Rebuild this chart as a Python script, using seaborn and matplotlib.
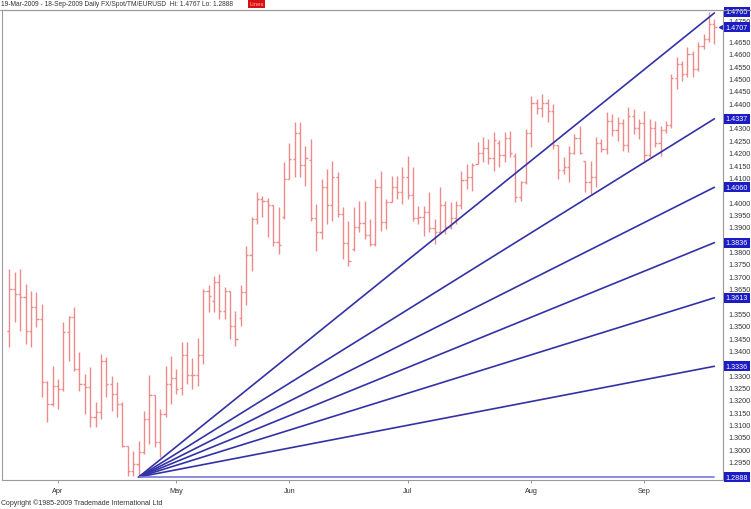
import matplotlib
matplotlib.use("Agg")
import matplotlib.pyplot as plt
import matplotlib.transforms as mtransforms
import seaborn as sns
import pandas as pd
import numpy as np

sns.set_theme(style="white")
plt.rcParams['font.family'] = ['Liberation Sans', 'DejaVu Sans']

# ---------------- data ----------------
start_date = "2009-03-19"
end_date = "2009-09-18"

opens = [1.3480, 1.3648, 1.3628, 1.3615, 1.3480, 1.3574, 1.3527, 1.3271, 1.3183, 1.3258,
         1.3244, 1.3473, 1.3534, 1.3325, 1.3264, 1.3251, 1.3129, 1.3150, 1.3359, 1.3264,
         1.3224, 1.3183, 1.3015, 1.2914, 1.2941, 1.2990, 1.3123, 1.3218, 1.3029, 1.3144,
         1.3265, 1.3290, 1.3250, 1.3380, 1.3300, 1.3300, 1.3380, 1.3640, 1.3600, 1.3676,
         1.3560, 1.3642, 1.3500, 1.3530, 1.3636, 1.3785, 1.3930, 1.4013, 1.4005, 1.3990,
         1.3838, 1.3940, 1.4094, 1.4175, 1.4280, 1.4150, 1.4170, 1.3935, 1.3880, 1.4060,
         1.3990, 1.4100, 1.3950, 1.3835, 1.3810, 1.3900, 1.3915, 1.3865, 1.3830, 1.4060,
         1.3920, 1.4000, 1.4060, 1.4040, 1.4100, 1.4030, 1.3935, 1.3940, 1.3960, 1.3895,
         1.3880, 1.3990, 1.3900, 1.3935, 1.3990, 1.4090, 1.4100, 1.4155, 1.4200, 1.4220,
         1.4180, 1.4240, 1.4190, 1.4260, 1.4185, 1.4020, 1.4080, 1.4280, 1.4400, 1.4380,
         1.4400, 1.4370, 1.4230, 1.4130, 1.4140, 1.4200, 1.4260, 1.4165, 1.4080, 1.4100,
         1.4240, 1.4215, 1.4330, 1.4290, 1.4320, 1.4230, 1.4350, 1.4300, 1.4320, 1.4190,
         1.4300, 1.4240, 1.4290, 1.4310, 1.4500, 1.4560, 1.4520, 1.4600, 1.4540, 1.4630,
         1.4660, 1.4720]
highs = [1.3729, 1.3716, 1.3729, 1.3669, 1.3642, 1.3635, 1.3588, 1.3278, 1.3338, 1.3284,
         1.3514, 1.3541, 1.3574, 1.3392, 1.3305, 1.3332, 1.3190, 1.3386, 1.3372, 1.3298,
         1.3271, 1.3190, 1.3015, 1.2995, 1.3035, 1.3157, 1.3299, 1.3218, 1.3164, 1.3339,
         1.3379, 1.3326, 1.3433, 1.3433, 1.3370, 1.3450, 1.3649, 1.3663, 1.3703, 1.3710,
         1.3656, 1.3642, 1.3561, 1.3663, 1.3824, 1.3939, 1.4040, 1.4025, 1.4015, 1.3990,
         1.3979, 1.4161, 1.4238, 1.4323, 1.4325, 1.4228, 1.4255, 1.3993, 1.4094, 1.4134,
         1.4168, 1.4121, 1.3979, 1.3925, 1.3979, 1.4006, 1.4006, 1.3932, 1.4094, 1.4127,
         1.4013, 1.4107, 1.4107, 1.4141, 1.4188, 1.4141, 1.3986, 1.3986, 1.4040, 1.3932,
         1.4060, 1.4006, 1.3999, 1.4006, 1.4127, 1.4154, 1.4160, 1.4242, 1.4262, 1.4255,
         1.4282, 1.4250, 1.4282, 1.4289, 1.4200, 1.4087, 1.4296, 1.4431, 1.4417, 1.4437,
         1.4417, 1.4397, 1.4230, 1.4181, 1.4228, 1.4276, 1.4309, 1.4168, 1.4168, 1.4262,
         1.4255, 1.4363, 1.4357, 1.4343, 1.4336, 1.4383, 1.4377, 1.4336, 1.4370, 1.4336,
         1.4330, 1.4309, 1.4330, 1.4518, 1.4586, 1.4570, 1.4626, 1.4613, 1.4646, 1.4680,
         1.4767, 1.4740]
lows = [1.3413, 1.3514, 1.3480, 1.3426, 1.3413, 1.3493, 1.3210, 1.3109, 1.3177, 1.3163,
        1.3237, 1.3359, 1.3318, 1.3237, 1.3143, 1.3089, 1.3089, 1.3123, 1.3210, 1.3156,
        1.3129, 1.3008, 1.2894, 1.2894, 1.2888, 1.2980, 1.3020, 1.3010, 1.2970, 1.3130,
        1.3185, 1.3225, 1.3218, 1.3265, 1.3245, 1.3258, 1.3346, 1.3555, 1.3555, 1.3528,
        1.3528, 1.3447, 1.3420, 1.3500, 1.3582, 1.3720, 1.3910, 1.3940, 1.3858, 1.3824,
        1.3790, 1.3930, 1.4094, 1.4100, 1.4100, 1.4067, 1.3925, 1.3804, 1.3851, 1.3912,
        1.3925, 1.3939, 1.3770, 1.3743, 1.3804, 1.3878, 1.3851, 1.3824, 1.3824, 1.3885,
        1.3891, 1.4000, 1.4013, 1.3993, 1.4013, 1.3925, 1.3912, 1.3864, 1.3878, 1.3831,
        1.3878, 1.3871, 1.3891, 1.3912, 1.3972, 1.4053, 1.4045, 1.4154, 1.4161, 1.4154,
        1.4127, 1.4141, 1.4161, 1.4181, 1.4000, 1.4006, 1.4074, 1.4222, 1.4357, 1.4343,
        1.4323, 1.4215, 1.4094, 1.4114, 1.4080, 1.4195, 1.4195, 1.4040, 1.4033, 1.4060,
        1.4201, 1.4195, 1.4269, 1.4249, 1.4208, 1.4201, 1.4276, 1.4255, 1.4168, 1.4181,
        1.4222, 1.4188, 1.4280, 1.4300, 1.4458, 1.4491, 1.4505, 1.4505, 1.4530, 1.4620,
        1.4646, 1.4640]
closes = [1.3648, 1.3628, 1.3615, 1.3480, 1.3574, 1.3527, 1.3271, 1.3183, 1.3258, 1.3244,
          1.3473, 1.3534, 1.3325, 1.3264, 1.3251, 1.3129, 1.3150, 1.3359, 1.3264, 1.3224,
          1.3183, 1.3015, 1.2914, 1.2941, 1.2990, 1.3123, 1.3218, 1.3029, 1.3144, 1.3265,
          1.3290, 1.3245, 1.3380, 1.3300, 1.3300, 1.3380, 1.3640, 1.3622, 1.3676, 1.3560,
          1.3642, 1.3500, 1.3447, 1.3636, 1.3785, 1.3930, 1.4013, 1.4005, 1.3990, 1.3838,
          1.3825, 1.4094, 1.4175, 1.4280, 1.4150, 1.4180, 1.3935, 1.3880, 1.4060, 1.3990,
          1.4100, 1.3950, 1.3835, 1.3760, 1.3900, 1.3915, 1.3865, 1.3830, 1.4060, 1.3920,
          1.4000, 1.4060, 1.4040, 1.4100, 1.4030, 1.3935, 1.3940, 1.3960, 1.3895, 1.3880,
          1.3990, 1.3900, 1.3935, 1.3990, 1.4090, 1.4100, 1.4150, 1.4200, 1.4220, 1.4180,
          1.4250, 1.4190, 1.4260, 1.4200, 1.4020, 1.4080, 1.4280, 1.4400, 1.4380, 1.4400,
          1.4370, 1.4230, 1.4130, 1.4140, 1.4200, 1.4260, 1.4200, 1.4080, 1.4100, 1.4240,
          1.4215, 1.4330, 1.4290, 1.4320, 1.4230, 1.4350, 1.4300, 1.4320, 1.4190, 1.4300,
          1.4240, 1.4290, 1.4310, 1.4500, 1.4560, 1.4520, 1.4600, 1.4540, 1.4630, 1.4660,
          1.4720, 1.4707]

# Fibonacci fan: anchor bar index and price, end prices at last bar
fan_anchor_index = 24
fan_anchor_price = 1.2888
fan_end_prices = [1.4765, 1.4337, 1.4060, 1.3836, 1.3613, 1.3336, 1.2888]
fan_labels = ["1.4765", "1.4337", "1.4060", "1.3836", "1.3613", "1.3336", "1.2888"]

last_price = 1.4707
last_label = "1.4707"

ytick_values = [1.4750, 1.4650, 1.4600, 1.4550, 1.4500, 1.4450, 1.4400, 1.4300, 1.4250,
                1.4200, 1.4150, 1.4100, 1.4000, 1.3950, 1.3900, 1.3800, 1.3750, 1.3700,
                1.3650, 1.3550, 1.3500, 1.3450, 1.3400, 1.3300, 1.3250, 1.3200, 1.3150,
                1.3100, 1.3050, 1.3000, 1.2950]
ytick_labels = ["%.4f" % v for v in ytick_values]

title_text = "19-Mar-2009 - 18-Sep-2009 Daily FX/Spot/TM/EURUSD  Hi: 1.4767 Lo: 1.2888"
copyright_text = "Copyright \u00a91985-2009 Trademade International Ltd"

# ---------------- build ----------------
dates = pd.bdate_range(start_date, end_date)
df = pd.DataFrame({"date": dates[:len(opens)], "open": opens, "high": highs,
                   "low": lows, "close": closes})
df["idx"] = np.arange(len(df))
last_idx = df["idx"].iloc[-1]

W, H = 751, 510
fig = plt.figure(figsize=(W / 100, H / 100), dpi=100)
fig.patch.set_facecolor("white")
ax = fig.add_axes([2 / W, 29 / H, 721 / W, 470 / H])
ax.set_facecolor("white")

bar_color = "#ef8a8a"
ax.vlines(df["idx"], df["low"], df["high"], color=bar_color, lw=1.0)
ax.hlines(df["open"], df["idx"] - 0.4, df["idx"], color=bar_color, lw=1.0)
ax.hlines(df["close"], df["idx"], df["idx"] + 0.4, color=bar_color, lw=1.0)

# fan lines via seaborn
rows = []
for k, p in enumerate(fan_end_prices):
    rows.append({"line": k, "x": fan_anchor_index, "price": fan_anchor_price})
    rows.append({"line": k, "x": last_idx, "price": p})
fan_df = pd.DataFrame(rows)
pal = {k: "#3232a6" for k in range(len(fan_end_prices))}
pal[len(fan_end_prices) - 1] = "#7878da"
sns.lineplot(data=fan_df, x="x", y="price", hue="line", units="line", estimator=None,
             palette=pal, lw=1.2, legend=False, ax=ax)

ax.set_xlim(-1.39, 132.6)
ax.set_ylim(1.2876, 1.4777)
ax.set_xlabel("")
ax.set_ylabel("")

# month ticks at first trading day of each month
month_first = df.groupby(df["date"].dt.to_period("M"))["idx"].min()
month_first = month_first[month_first > 0]
ax.set_xticks(month_first.values)
ax.set_xticklabels([d.strftime("%b") for d in df.loc[month_first.values, "date"]],
                   fontsize=5.2, color="#333333")
ax.tick_params(axis="x", length=2, width=0.6, color="#888888", pad=3, bottom=True)

ax.yaxis.tick_right()
ax.set_yticks(ytick_values)
ax.set_yticklabels(ytick_labels, fontsize=5.2, color="#333333")
ax.tick_params(axis="y", length=0, pad=4, right=True)
# nudge the top label below the 1.4765 marker box, as in the original
for lab in ax.get_yticklabels():
    if lab.get_text() == "1.4750":
        lab.set_transform(lab.get_transform() +
                          mtransforms.ScaledTranslation(0, -4 / 100, fig.dpi_scale_trans))

for s in ax.spines.values():
    s.set_color("#9a9a9a")
    s.set_linewidth(0.8)

trans = mtransforms.blended_transform_factory(ax.transAxes, ax.transData)
box_style = dict(boxstyle="square,pad=0.2", fc="#1c1cc4", ec="none")
for p, lab in zip(fan_end_prices, fan_labels):
    y_off = 0.0005 if lab == "1.4765" else 0.0
    ax.text(1.004, p + y_off, lab, transform=trans, fontsize=5.2, color="white",
            va="center", ha="left", bbox=box_style, clip_on=False)
ax.text(1.004, last_price, last_label, transform=trans, fontsize=5.2, color="white",
        va="center", ha="left", bbox=box_style, clip_on=False)
ax.plot([1.0 - 0.002], [last_price], marker="<", ms=5, color="#1c1cc4",
        transform=trans, clip_on=False)

fig.text(1 / W, 1 - 5 / H, title_text, fontsize=4.75, color="#333333", va="center", ha="left")
fig.text(249 / W, 1 - 5 / H, "Lines", fontsize=4.3, color="#ffb0b0", va="center", ha="left",
         bbox=dict(boxstyle="square,pad=0.25", fc="#d81010", ec="none"))
fig.text(1 / W, 1 - 503 / H, copyright_text, fontsize=5.0, color="#333333",
         va="center", ha="left")
fig.add_artist(plt.Line2D([0, 1], [1 - 11 / H, 1 - 11 / H], color="#9a9a9a", lw=0.8,
                          transform=fig.transFigure))

fig.savefig("out.png", dpi=100, facecolor="white")
